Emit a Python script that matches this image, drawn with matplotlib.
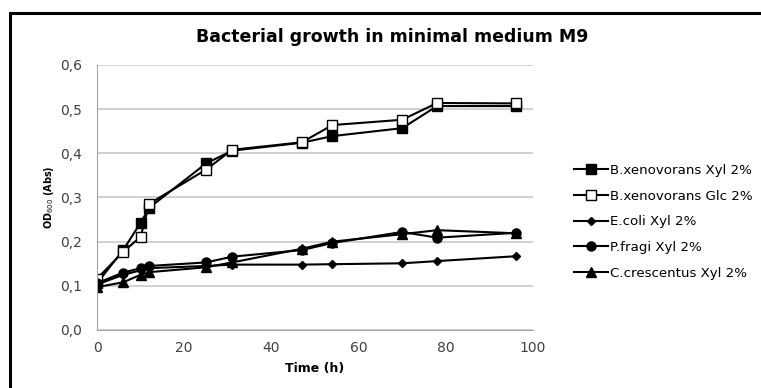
import matplotlib.pyplot as plt
from matplotlib.patches import Rectangle
from matplotlib.ticker import FuncFormatter

plt.rcParams["font.family"] = ["DejaVu Sans"]

time_h = [0, 6, 10, 12, 25, 31, 47, 54, 70, 78, 96]

bx_xyl = [0.106, 0.181, 0.243, 0.277, 0.377, 0.406, 0.424, 0.439, 0.457, 0.507, 0.507]
bx_glc = [0.116, 0.177, 0.211, 0.286, 0.363, 0.408, 0.425, 0.464, 0.476, 0.514, 0.513]
ecoli_xyl = [0.103, 0.125, 0.135, 0.140, 0.145, 0.148, 0.148, 0.149, 0.151, 0.156, 0.167]
pfragi_xyl = [0.106, 0.130, 0.140, 0.145, 0.153, 0.166, 0.181, 0.197, 0.222, 0.209, 0.220]
ccres_xyl = [0.097, 0.108, 0.125, 0.131, 0.142, 0.153, 0.184, 0.200, 0.217, 0.226, 0.219]

series = [
    ("B.xenovorans Xyl 2%", bx_xyl, "s", "black", 6.5),
    ("B.xenovorans Glc 2%", bx_glc, "s", "white", 6.5),
    ("E.coli Xyl 2%", ecoli_xyl, "D", "black", 4),
    ("P.fragi Xyl 2%", pfragi_xyl, "o", "black", 6.5),
    ("C.crescentus Xyl 2%", ccres_xyl, "^", "black", 6.5),
]

fig = plt.figure(figsize=(7.61, 3.88), dpi=100)
# chart area border (runs off the right and bottom edges)
fig.patches.append(Rectangle((0.0125, -0.05), 1.0, 1.016, transform=fig.transFigure,
                             fill=False, edgecolor="black", linewidth=2.2))

ax = fig.add_axes([0.1275, 0.1495, 0.5729, 0.683])

for label, values, marker, face, size in series:
    ax.plot(time_h, values, color="black", linewidth=1.5, marker=marker,
            markersize=size, markerfacecolor=face, markeredgecolor="black",
            markeredgewidth=1.0, label=label)

ax.set_xlim(0, 100)
ax.set_ylim(0, 0.6)
ax.set_xticks(range(0, 101, 20))
ax.set_yticks([i / 10 for i in range(7)])
ax.yaxis.set_major_formatter(FuncFormatter(lambda v, _: f"{v:.1f}".replace(".", ",")))
ax.tick_params(length=0, labelsize=10, colors="#404040")
ax.tick_params(axis="y", pad=11)
ax.tick_params(axis="x", pad=8)
ax.grid(axis="y", color="#c8c8c8", linewidth=1.2)
ax.set_axisbelow(True)
for side in ("top", "right"):
    ax.spines[side].set_visible(False)
for side in ("left", "bottom"):
    ax.spines[side].set_color("#a6a6a6")

ax.set_xlabel("Time (h)", fontsize=9, fontweight="bold", labelpad=5)
ax.set_ylabel("OD$_{600}$ (Abs)", fontsize=7, fontweight="bold", labelpad=3)
fig.text(0.515, 0.905, "Bacterial growth in minimal medium M9",
         fontsize=12.5, fontweight="bold", ha="center", va="center")

fig.legend(loc="center left", bbox_to_anchor=(0.745, 0.428), frameon=False,
           fontsize=9.6, borderpad=0, handlelength=2.55, handletextpad=0.2,
           labelspacing=0.95)

fig.savefig("out.png", dpi=100)
